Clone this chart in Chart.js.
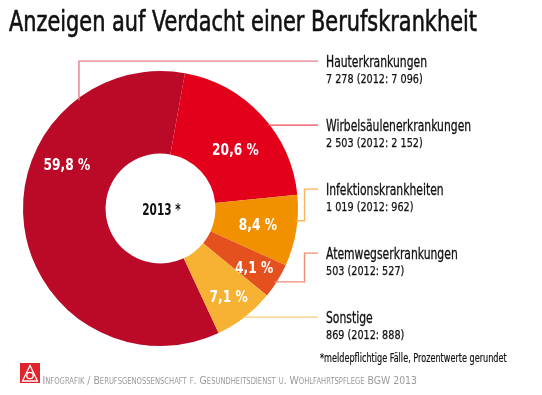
<!DOCTYPE html>
<html>
<head>
<meta charset="utf-8">
<script src="https://cdn.jsdelivr.net/npm/chart.js@4.4.0/dist/chart.umd.min.js"></script>
<style>
    body { margin: 0; background: #fff; }
    canvas { display: block; }
</style>
</head>
<body>
<canvas id="myChart" width="542" height="395"></canvas>
<script>
// Anzeigen auf Verdacht einer Berufskrankheit (BGW 2013), doughnut with Chart.js

const categories = ['Hauterkrankungen', 'Wirbelsäulenerkrankungen', 'Infektionskrankheiten', 'Atemwegserkrankungen', 'Sonstige'];
const cases2013 = [7278, 2503, 1019, 503, 869];
const cases2012 = [7096, 2152, 962, 527, 888];
const centerLabel = '2013 *';

const sliceColors = ['#BA0A27', '#E2001A', '#F29100', '#E5501F', '#F7B233'];
const leaderColors = ['#E27F8C', '#EA4A58', '#F7B45A', '#EF8E74', '#F9CA78'];

const total = cases2013.reduce((a, b) => a + b, 0);
const percentLabels = cases2013.map(v => (v / total * 100).toFixed(1).replace('.', ',') + ' %');

function formatNumber(n) {
    return String(n).replace(/\B(?=(\d{3})+(?!\d))/g, ' ');
}

const narrow = '"Liberation Sans Narrow", "DejaVu Sans Condensed", "Roboto Condensed", sans-serif';

// label placement inside the ring (angle shift in degrees, depth 0 = hole edge, 1 = outer edge)
const labelShift = [32.8, 4.5, 0, 0, 0];
const labelDepth = [0.59, 0.49, 0.53, 0.67, 0.68];

// leader lines: 'v' = up from the ring, 's' = straight across, 'e' = with an elbow
const leaderMode = ['v', 's', 'e', 'e', 's'];
const leaderAngle = [323, 0, 95.2, 122.8, 0];   // degrees clockwise from 12 o'clock

function drawText(ctx, text, x, y, font, color, fitWidth, align, weight) {
    ctx.save();
    ctx.font = font;
    ctx.fillStyle = color;
    ctx.textAlign = align || 'left';
    ctx.textBaseline = 'alphabetic';
    const w = ctx.measureText(text).width;
    const s = fitWidth ? fitWidth / w : 1;
    ctx.translate(x, y);
    ctx.scale(s, 1);
    ctx.fillText(text, 0, 0);
    if (weight) {                                  // thicken thin glyphs a little
        ctx.strokeStyle = color;
        ctx.lineWidth = weight;
        ctx.strokeText(text, 0, 0);
    }
    ctx.restore();
}

function scaleFor(ctx, text, font, width) {
    ctx.save();
    ctx.font = font;
    const w = ctx.measureText(text).width;
    ctx.restore();
    return width / w;
}

const annotations = {
    id: 'annotations',
    afterDraw(chart) {
        const ctx = chart.ctx;
        const meta = chart.getDatasetMeta(0);
        const first = meta.data[0].getProps(['x', 'y', 'outerRadius', 'innerRadius'], true);
        const cx = first.x, cy = first.y, R = first.outerRadius;

        // title
        drawText(ctx, 'Anzeigen auf Verdacht einer Berufskrankheit', 9, 31, '29px ' + narrow, '#111', 468, 'left', 0.6);

        // percentage labels on the ring
        meta.data.forEach((arc, i) => {
            const p = arc.getProps(['x', 'y', 'startAngle', 'endAngle', 'innerRadius', 'outerRadius'], true);
            const mid = (p.startAngle + p.endAngle) / 2 + labelShift[i] * Math.PI / 180;
            const r = p.innerRadius + labelDepth[i] * (p.outerRadius - p.innerRadius);
            const font = 'bold 16px ' + narrow;
            const s = scaleFor(ctx, '59,8 %', font, 46.7);
            ctx.save();
            ctx.font = font;
            const w = ctx.measureText(percentLabels[i]).width * s;
            ctx.restore();
            drawText(ctx, percentLabels[i], p.x + r * Math.cos(mid), p.y + r * Math.sin(mid) + 5.8, font, '#fff', w, 'center');
        });

        // centre label
        drawText(ctx, centerLabel, cx + 1, cy + 6, 'bold 16px ' + narrow, '#111', 38.4, 'center');

        // legend texts and leader lines
        const textX = 326, lineEnd = 318, elbowX = 304.5;
        const titleFont = '16px ' + narrow, valueFont = '13px ' + narrow;
        const titleScale = scaleFor(ctx, 'Hauterkrankungen', titleFont, 101);
        const valueScale = scaleFor(ctx, '7 278 (2012: 7 096)', valueFont, 96.7);
        categories.forEach((name, i) => {
            const base = 66.6 + 64 * i;
            const valueText = formatNumber(cases2013[i]) + ' (2012: ' + formatNumber(cases2012[i]) + ')';
            ctx.save();
            ctx.font = titleFont;
            const tw = ctx.measureText(name).width * titleScale;
            ctx.font = valueFont;
            const vw = ctx.measureText(valueText).width * valueScale;
            ctx.restore();
            drawText(ctx, name, textX, base, titleFont, '#111', tw, 'left', 0.3);
            drawText(ctx, valueText, textX, base + 16.7, valueFont, '#111', vw, 'left', 0.25);

            const lineY = base - 5.5;
            ctx.save();
            ctx.strokeStyle = leaderColors[i];
            ctx.lineWidth = 1.4;
            ctx.beginPath();
            if (leaderMode[i] === 's') {
                const x0 = cx + Math.sqrt(R * R - (lineY - cy) * (lineY - cy)) - 2;
                ctx.moveTo(x0, lineY);
                ctx.lineTo(lineEnd, lineY);
            } else {
                const a = (leaderAngle[i] - 90) * Math.PI / 180;
                const ax = cx + (R - 2) * Math.cos(a), ay = cy + (R - 2) * Math.sin(a);
                if (leaderMode[i] === 'v') {
                    ctx.moveTo(ax, ay);
                    ctx.lineTo(ax, lineY);
                    ctx.lineTo(lineEnd, lineY);
                } else {
                    ctx.moveTo(ax, ay);
                    ctx.lineTo(elbowX, ay);
                    ctx.lineTo(elbowX, lineY);
                    ctx.lineTo(lineEnd, lineY);
                }
            }
            ctx.stroke();
            ctx.restore();
        });

        // footnote
        drawText(ctx, '*meldepflichtige Fälle, Prozentwerte gerundet', 320, 361.7, '12px ' + narrow, '#111', 186.7, 'left', 0.2);

        // logo
        ctx.save();
        ctx.fillStyle = '#E0242C';
        ctx.fillRect(20, 363, 20, 20);
        ctx.strokeStyle = '#fff';
        ctx.lineWidth = 1.3;
        ctx.beginPath();
        ctx.moveTo(30, 365.5);
        ctx.lineTo(22.5, 381);
        ctx.lineTo(37.5, 381);
        ctx.closePath();
        ctx.stroke();
        ctx.beginPath();
        ctx.arc(30, 375.5, 3.2, 0, Math.PI * 2);
        ctx.stroke();
        ctx.restore();

        // source line in small caps
        drawText(ctx, 'Infografik / Berufsgenossenschaft f. Gesundheitsdienst u. Wohlfahrtspflege BGW 2013', 42.5, 384, 'small-caps 11px "DejaVu Sans", sans-serif', '#9a9a9a', 374.5);
    }
};

const myChart = new Chart(document.getElementById('myChart'), {
    type: 'doughnut',
    data: {
        labels: categories,
        datasets: [{
            data: cases2013,
            backgroundColor: sliceColors,
            borderWidth: 0
        }]
    },
    options: {
        responsive: false,
        animation: false,
        rotation: 155,
        cutout: '40%',
        layout: {
            padding: { left: 23, top: 71, right: 244, bottom: 49 }
        },
        plugins: {
            legend: { display: false },
            tooltip: { enabled: false },
            title: { display: false }
        }
    },
    plugins: [annotations]
});
</script>
</body>
</html>
